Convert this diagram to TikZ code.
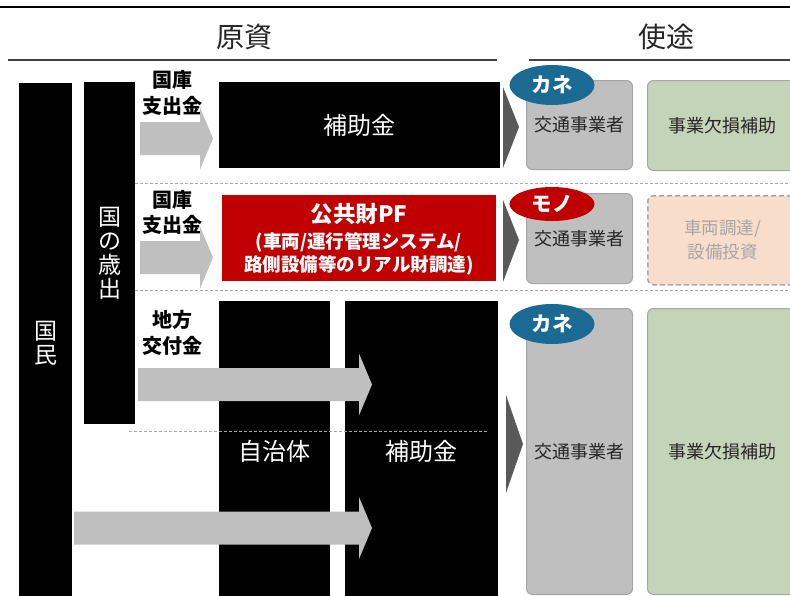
\documentclass[tikz,border=0pt]{standalone}
\usepackage{fontspec}
\setmainfont{Noto Sans CJK JP}
\usepackage{tikz}
\usetikzlibrary{positioning, calc, shapes.geometric}

\definecolor{kaneblue}{HTML}{1B6A94}
\definecolor{monored}{HTML}{C00000}
\definecolor{arrowgray}{HTML}{BFBFBF}
\definecolor{boxgray}{HTML}{BFBFBF}
\definecolor{edgegray}{HTML}{A6A6A6}
\definecolor{chevgray}{HTML}{595959}
\definecolor{hojogreen}{HTML}{C4D4B8}
\definecolor{peach}{HTML}{F9DDCB}
\definecolor{darktext}{HTML}{262626}

\tikzset{
  head/.style={text=darktext, font=\fontsize{28}{30}\selectfont},
  headline/.style={draw=black!75, line width=1.5pt},
  blackbox/.style={anchor=north west, fill=black, text=white, inner sep=0pt, align=center,
    font=\fontsize{23}{24}\selectfont},
  pfbox/.style={anchor=north west, fill=monored, inner sep=0pt},
  pftext/.style={text=white, font=\bfseries\fontsize{18.5}{20}\selectfont},
  jigyosha/.style={anchor=north west, minimum width=106, fill=boxgray, draw=edgegray,
    line width=1pt, rounded corners=6pt, text=darktext, font=\fontsize{18}{20}\selectfont},
  usebox/.style={anchor=north west, minimum width=150, fill=hojogreen, draw=edgegray,
    line width=1pt, rounded corners=6pt, text=darktext, font=\fontsize{18}{20}\selectfont},
  planbox/.style={anchor=north west, minimum width=150, fill=peach, draw=edgegray,
    line width=1.5pt, dash pattern=on 5pt off 3pt, rounded corners=6pt, text=edgegray,
    align=center, font=\fontsize{17.5}{24}\selectfont},
  tag/.style={ellipse, minimum width=85, minimum height=40, inner sep=0pt, text=white,
    font=\bfseries\fontsize{20.5}{22}\selectfont},
  flowlabel/.style={align=center, inner sep=0pt, font=\bfseries\fontsize{20}{25.5}\selectfont},
  sep/.style={draw=edgegray, line width=1pt, dash pattern=on 3pt off 2pt},
  garrow/.style={fill=arrowgray, to path={
    ($(\tikztostart)+(0,-16.5)$) -- ($(\tikztotarget)+(-13,-16.5)$)
    -- ($(\tikztotarget)+(-13,-31)$) -- (\tikztotarget)
    -- ($(\tikztotarget)+(-13,31)$) -- ($(\tikztotarget)+(-13,16.5)$)
    -- ($(\tikztostart)+(0,16.5)$) -- cycle}}
}

\begin{document}
\begin{tikzpicture}[x=1pt, y=-1pt]
\clip (0,0) rectangle (790,595);

% headings
\draw[line width=2pt] (0,7) -- (790,7);
\node[head] (genshi) at (244,37) {原資};
\node[head] (shito) at (666,37) {使途};
\draw[headline] (8,60) -- (497,60);
\draw[headline] (529,60) -- (790,60);

% sources
\node[blackbox, minimum width=53, minimum height=520] (kokumin) at (19,83) {国\\民};
\node[blackbox, minimum width=51, minimum height=342] (saishutsu) at (84,82) {国\\の\\歳\\出};

\node[blackbox, font=\fontsize{24}{24}\selectfont, minimum width=281, minimum height=86] (hojo1) at (219,82) {補助金};
\node[pfbox, minimum width=274, minimum height=86] (pf) at (222,195) {};
\node[pftext, font=\bfseries\fontsize{22.5}{24}\selectfont] (pftitle) at (359,214) {公共財PF};
\node[pftext] (pfsub1) at (359,242) {(車両/運行管理システム/};
\node[pftext] (pfsub2) at (359,265) {路側設備等のリアル財調達)};
\node[blackbox, font=\fontsize{24}{24}\selectfont, minimum width=111, minimum height=300] (jichitai) at (219,301) {自治体};
\node[blackbox, font=\fontsize{24}{24}\selectfont, minimum width=153, minimum height=300] (hojo3) at (345,301) {補助金};

% uses
\node[jigyosha, minimum height=89] (op1) at (526,80) {交通事業者};
\node[jigyosha, minimum height=90] (op2) at (526,193) {交通事業者};
\node[jigyosha, minimum height=286] (op3) at (526,308) {交通事業者};
\node[usebox, minimum height=90] (kesson1) at (647,80) {事業欠損補助};
\node[planbox, minimum height=89] (setsubi) at (647,195) {車両調達/\\設備投資};
\node[usebox, minimum height=286] (kesson3) at (647,308) {事業欠損補助};

\node[tag, fill=kaneblue] (kane1) at (552,85) {カネ};
\node[tag, fill=monored, minimum height=34] (mono) at (552,204) {モノ};
\node[tag, fill=kaneblue] (kane3) at (552,324) {カネ};

% separators
\draw[sep] (135,183) -- (790,183);
\draw[sep] (135,290) -- (790,290);
\draw[sep] (129,431) -- (488,431);

% flows
\node[flowlabel] (kokko1) at (172,93) {国庫\\支出金};
\node[flowlabel] (kokko2) at (172,212.5) {国庫\\支出金};
\node[flowlabel] (chiho) at (172,333) {地方\\交付金};

\coordinate (a1s) at (140,138.5);
\coordinate (a1e) at (213,138.5);
\coordinate (a2s) at (140,257.5);
\coordinate (a2e) at (213,257.5);
\coordinate (a3s) at (138,384.5);
\coordinate (a3e) at (372,384.5);
\coordinate (a4s) at (74,528);
\coordinate (a4e) at (372,528);
\path[garrow] (a1s) to (a1e);
\path[garrow] (a2s) to (a2e);
\path[garrow] (a3s) to (a3e);
\path[garrow] (a4s) to (a4e);

\fill[chevgray] (503,87) -- (519,127) -- (503,168) -- cycle;
\fill[chevgray] (503,200) -- (519,240) -- (503,282) -- cycle;
\fill[chevgray] (506,395) -- (523,444) -- (506,493) -- cycle;
\end{tikzpicture}
\end{document}
